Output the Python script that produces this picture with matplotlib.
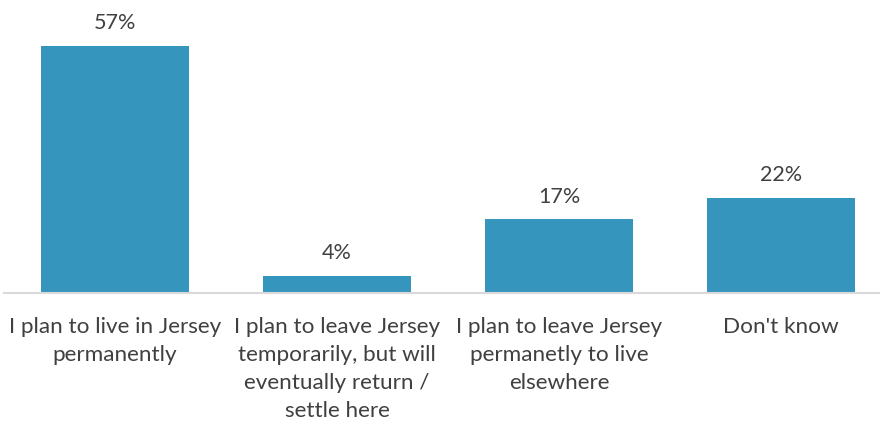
import matplotlib
matplotlib.use("Agg")
import matplotlib.pyplot as plt

categories = [
    "I plan to live in Jersey\npermanently",
    "I plan to leave Jersey\ntemporarily, but will\neventually return /\nsettle here",
    "I plan to leave Jersey\npermanetly to live\nelsewhere",
    "Don't know",
]
values = [57, 4, 17, 22]
value_labels = ["57%", "4%", "17%", "22%"]

plt.rcParams['font.family'] = ['Lato', 'DejaVu Sans']
text_color = "#404040"
bar_color = "#3595BD"

fig = plt.figure(figsize=(8.8, 4.24), dpi=100)
ax = fig.add_axes([4/880, 131/424, 876/880, 293/424])

x = list(range(len(categories)))
bars = ax.bar(x, values, width=0.667, color=bar_color)
for xi, v, lab in zip(x, values, value_labels):
    ax.annotate(lab, (xi, v), xytext=(0, 9), textcoords="offset points",
                ha="center", va="bottom", fontsize=15.5, color=text_color)

ax.set_xlim(-0.5, 3.446)
ax.set_ylim(0, 67.6)
ax.set_yticks([])
ax.set_xticks(x)
ax.set_xticklabels(categories, fontsize=16.2, color=text_color, linespacing=1.5, va="top")
ax.tick_params(axis="x", length=0, pad=17)
for s in ["top", "right", "left"]:
    ax.spines[s].set_visible(False)
ax.spines["bottom"].set_color("#d9d9d9")
ax.spines["bottom"].set_linewidth(1.5)

fig.savefig("out.png", dpi=100)
